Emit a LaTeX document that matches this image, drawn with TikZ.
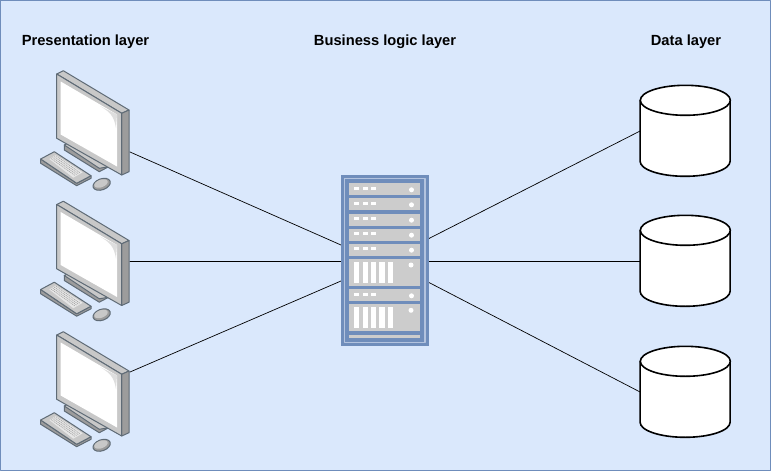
\documentclass[tikz,border=0pt]{standalone}
\usepackage{fontspec}
\setmainfont{Liberation Sans}
\definecolor{bgblue}{HTML}{DAE8FC}
\definecolor{rackblue}{HTML}{6F8DBB}
\definecolor{rackpale}{HTML}{B3C3DE}
\definecolor{slotgray}{HTML}{CCCCCC}
\definecolor{pcedge}{HTML}{5F6B76}
\definecolor{pcgray}{HTML}{C8C8C8}
\definecolor{pcdark}{HTML}{9C9C9C}
\tikzset{
  layerlabel/.style={font=\fontsize{14.7}{17}\selectfont\bfseries},
  dbcyl/.style={draw=none,inner sep=0pt,minimum width=90pt,minimum height=91pt},
  dbline/.style={draw=black,fill=white,line width=1.6pt},
  rack/.style={draw=none,fill=rackblue,inner sep=0pt,minimum width=87.5pt,minimum height=171pt},
  link/.style={draw=black,line width=0.7pt},
  pcpart/.style={draw=pcedge,line width=1pt,line join=round},
  computer/.pic={
    \draw[pcpart,fill=pcdark] (64.3,145) -- (64.3,150) -- (99.3,171.7) -- (108.7,166.7) -- cycle;
    \draw[pcpart,fill=pcgray] (64.3,145) -- (67.7,143.3) -- (108.7,166.7) -- (99.3,168.3) -- cycle;
    \draw[pcpart,fill=pcdark] (40.7,159) -- (76.7,183.3) -- (91,175.7) -- (91,178.3) -- (76.7,185.7) -- (40.7,163.3) -- cycle;
    \draw[pcpart,fill=pcgray] (40.7,159) -- (54.3,151.7) -- (91,175.7) -- (76.7,183.3) -- cycle;
    \fill[pcgray!45!white] (49.3,159) -- (56,155) -- (82.7,172.3) -- (73.3,177.7) -- cycle;
    \foreach \k in {0,1,2,3}
    \draw[pcdark,line width=0.5pt,dash pattern=on 1pt off 1pt] (51+\k*1.7,158.5-\k*0.9) -- (75+\k*1.7,175.5-\k*0.9);
    \draw[pcpart,fill=pcdark,rotate around={20:(101.7,184.3)}] (101.7,184.3) ellipse (9pt and 5.5pt);
    \fill[pcgray,rotate around={20:(101,183.5)}] (101,183.5) ellipse (7pt and 3.8pt);
    \draw[pcpart,fill=pcgray] (56.7,74) -- (63.3,70.7) -- (129,110) -- (121.7,113.3) -- cycle;
    \draw[pcpart,fill=pcdark] (121.7,113.3) -- (129,110) -- (129,171.7) -- (121.7,175) -- cycle;
    \draw[pcpart,fill=pcgray] (56.7,74) -- (121.7,113.3) -- (121.7,175) -- (56.7,138.3) -- cycle;
    \fill[white] (60.7,81.5) -- (117,114.5) -- (117,166.5) -- (60.7,134.5) -- cycle;
    \fill[pcgray!60] (100,106) .. controls (110,112) and (114,116) .. (116,128) -- (117,114.5) -- cycle;
  }
}
\begin{document}
\begin{tikzpicture}[x=1pt,y=-1pt,line cap=round,line join=round]
\useasboundingbox (0,0) rectangle (771,471);
\draw[draw=rackblue,fill=bgblue,line width=1pt] (0.5,0.5) rectangle (770.5,470.5);
\node[layerlabel] (present) at (85.5,42) {Presentation layer};
\node[layerlabel] (business) at (385,42) {Business logic layer};
\node[layerlabel] (data) at (686,42) {Data layer};
% free ends of the links at the monitors and the rack
\coordinate (pc1end) at (130,152);
\coordinate (pc2end) at (130,261);
\coordinate (pc3end) at (130,372);
\coordinate (srv1) at (341,245);
\coordinate (srv2) at (341,261);
\coordinate (srv3) at (341,281);
\coordinate (srv4) at (428,239);
\coordinate (srv5) at (428,261);
\coordinate (srv6) at (428,282);
\foreach \n/\y in {1/0,2/130.5,3/261}
\pic (pc\n) at (0,\y) {computer};
\foreach \n/\y in {1/131,2/261,3/392} {
\node[dbcyl] (db\n) at (685.3,\y) {};
\draw[dbline] (db\n.north west) ++(0,15) -- ++(0,61) arc (180:0:45 and 15) -- ++(0,-61);
\draw[dbline] (db\n.north) ++(0,15) ellipse (45 and 15);
}
\draw[link] (pc1end) -- (srv1);
\draw[link] (pc2end) -- (srv2);
\draw[link] (pc3end) -- (srv3);
\draw[link] (srv4) -- (db1.west);
\draw[link] (srv5) -- (db2.west);
\draw[link] (srv6) -- (db3.west);
\node[rack] (server) at (384.8,260.5) {};
\draw[rackpale,line width=1.4pt] (344.7,178.7) rectangle (424.9,342.3);
\foreach \y in {183.3,198.3,213.7,228.7,243.7,289.3} {
\fill[slotgray] (349,\y) rectangle (420,\y+11.8);
\foreach \x in {354,362.5,370.7}
\fill[white] (\x,\y+3.5) rectangle (\x+5.2,\y+6.5);
\fill[white] (411.5,\y+6.5) circle (2.5pt);
}
\foreach \y in {259,304.3} {
\fill[slotgray] (349,\y) rectangle (420,\y+26.7);
\foreach \x in {354,362.5,370.8,379.3,387.7}
\fill[white] (\x,\y+3) rectangle (\x+5.2,\y+24);
\fill[white] (411,\y+6) circle (2.5pt);
}
\fill[slotgray] (349,335) rectangle (420,338.3);
\end{tikzpicture}
\end{document}
